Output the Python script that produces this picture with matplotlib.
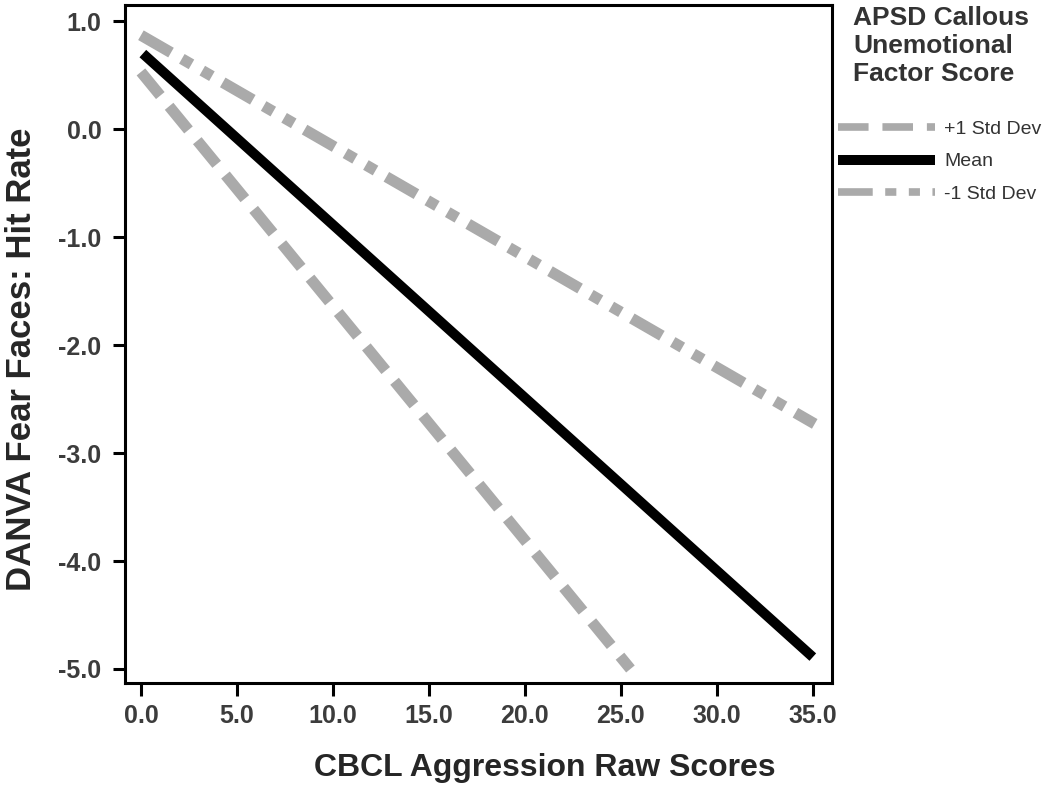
import matplotlib
matplotlib.use("Agg")
import matplotlib.pyplot as plt
from matplotlib.lines import Line2D
import numpy as np

# simple slopes: CBCL aggression vs DANVA fear hit rate, by APSD CU score
x_plus = [0.0, 25.5]
y_plus = [0.53, -5.0]
x_mean = [0.1, 35.0]
y_mean = [0.70, -4.89]
x_minus = [0.0, 35.1]
y_minus = [0.87, -2.73]

xticks = [0.0, 5.0, 10.0, 15.0, 20.0, 25.0, 30.0, 35.0]
yticks = [1.0, 0.0, -1.0, -2.0, -3.0, -4.0, -5.0]
labels = ["+1 Std Dev", "Mean", "-1 Std Dev"]

plt.rcParams["font.family"] = ["Liberation Sans", "DejaVu Sans"]
plt.rcParams["lines.scale_dashes"] = False

gray = "#aaaaaa"
dash_plus = (0, (22, 10))
dash_minus = (0, (25, 9, 8, 9, 8, 9))

fig = plt.figure(figsize=(10.51, 7.86), dpi=100)
ax = fig.add_axes([125 / 1051, 1 - 683 / 786, (832 - 125) / 1051, (683 - 5) / 786])

ax.plot(x_minus, y_minus, color=gray, lw=8, linestyle=dash_minus, dash_capstyle="butt")
ax.plot(x_plus, y_plus, color=gray, lw=8, linestyle=dash_plus, dash_capstyle="butt")
ax.plot(x_mean, y_mean, color="black", lw=7.2, solid_capstyle="butt")

ax.set_xlim(-0.83, 36.0)
ax.set_ylim(-5.13, 1.15)
ax.set_xticks(xticks)
ax.set_xticklabels([f"{v:.1f}" for v in xticks], fontsize=18, fontweight="bold", color="#3c3c3c")
ax.set_yticks(yticks)
ax.set_yticklabels([f"{v:.1f}" for v in yticks], fontsize=18, fontweight="bold", color="#3c3c3c")
ax.tick_params(axis="both", direction="out", length=9, width=2.2, color="black")
ax.tick_params(axis="x", pad=6)
ax.tick_params(axis="y", pad=8)
for s in ax.spines.values():
    s.set_linewidth(2.2)
    s.set_color("black")

ax.set_xlabel("CBCL Aggression Raw Scores", fontsize=23, fontweight="bold", color="#262626")
ax.set_ylabel("DANVA Fear Faces: Hit Rate", fontsize=25, fontweight="bold", color="#262626")
ax.xaxis.set_label_coords((545 - 125) / 707, -(768 - 683) / 678)
ax.yaxis.set_label_coords(-(125 - 22) / 707, (683 - 359) / 678)
ax.xaxis.label.set_va("center")
ax.yaxis.label.set_va("center")

fig.text(853 / 1051, 1 - 6 / 786, "APSD Callous\nUnemotional\nFactor Score", ha="left", va="top",
         fontsize=19, fontweight="bold", color="#333333", linespacing=1.22)

handles = [
    Line2D([], [], color=gray, lw=5.5, linestyle=dash_plus, dash_capstyle="butt"),
    Line2D([], [], color="black", lw=7.2, solid_capstyle="butt"),
    Line2D([], [], color=gray, lw=5.5, linestyle=dash_minus, dash_capstyle="butt"),
]
fig.legend(handles, labels, loc="upper left", bbox_to_anchor=(838 / 1051, 1 - 120 / 786),
           frameon=False, fontsize=14, handlelength=5.0, handletextpad=0.45,
           labelspacing=0.78, borderpad=0, borderaxespad=0, labelcolor="#333333")

fig.savefig("out.png", dpi=100)
